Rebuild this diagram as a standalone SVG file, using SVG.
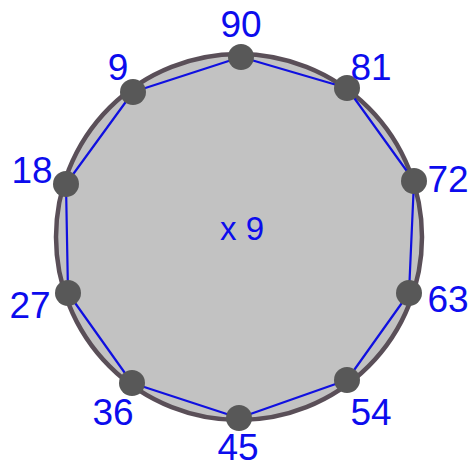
<svg xmlns="http://www.w3.org/2000/svg" width="475" height="470" viewBox="0 0 475 470">
<style>
.lbl{font-family:"Liberation Sans",Arial,sans-serif;font-size:37px;fill:#0c0ced;text-anchor:middle}
.pt{fill:#585858}
.edge{fill:none;stroke:#1010e0;stroke-width:2.2;stroke-linejoin:round}
</style>
<rect width="475" height="470" fill="#ffffff"/>
<g id="circle">
<circle cx="239" cy="237" r="183" fill="#c2c2c2" stroke="#5a4f58" stroke-width="4.5"/>
</g>
<g id="connectors">
<polygon class="edge" points="241,57 347,88 414,181 409,293 347,380 239,418 132,383 68,293 66,184 133,92"/>
</g>
<g id="n90"><circle class="pt" cx="241" cy="57" r="13"/><text class="lbl" x="241" y="37">90</text></g>
<g id="n81"><circle class="pt" cx="347" cy="88" r="13"/><text class="lbl" x="371" y="80">81</text></g>
<g id="n72"><circle class="pt" cx="414" cy="181" r="13"/><text class="lbl" x="448" y="192">72</text></g>
<g id="n63"><circle class="pt" cx="409" cy="293" r="13"/><text class="lbl" x="448" y="312">63</text></g>
<g id="n54"><circle class="pt" cx="347" cy="380" r="13"/><text class="lbl" x="371" y="425">54</text></g>
<g id="n45"><circle class="pt" cx="239" cy="418" r="13"/><text class="lbl" x="238" y="460">45</text></g>
<g id="n36"><circle class="pt" cx="132" cy="383" r="13"/><text class="lbl" x="113" y="425">36</text></g>
<g id="n27"><circle class="pt" cx="68" cy="293" r="13"/><text class="lbl" x="30" y="318">27</text></g>
<g id="n18"><circle class="pt" cx="66" cy="184" r="13"/><text class="lbl" x="32" y="183">18</text></g>
<g id="n9"><circle class="pt" cx="133" cy="92" r="13"/><text class="lbl" x="118" y="80">9</text></g>
<g id="center"><text class="lbl" x="242" y="240" style="font-size:33px">x 9</text></g>
</svg>
